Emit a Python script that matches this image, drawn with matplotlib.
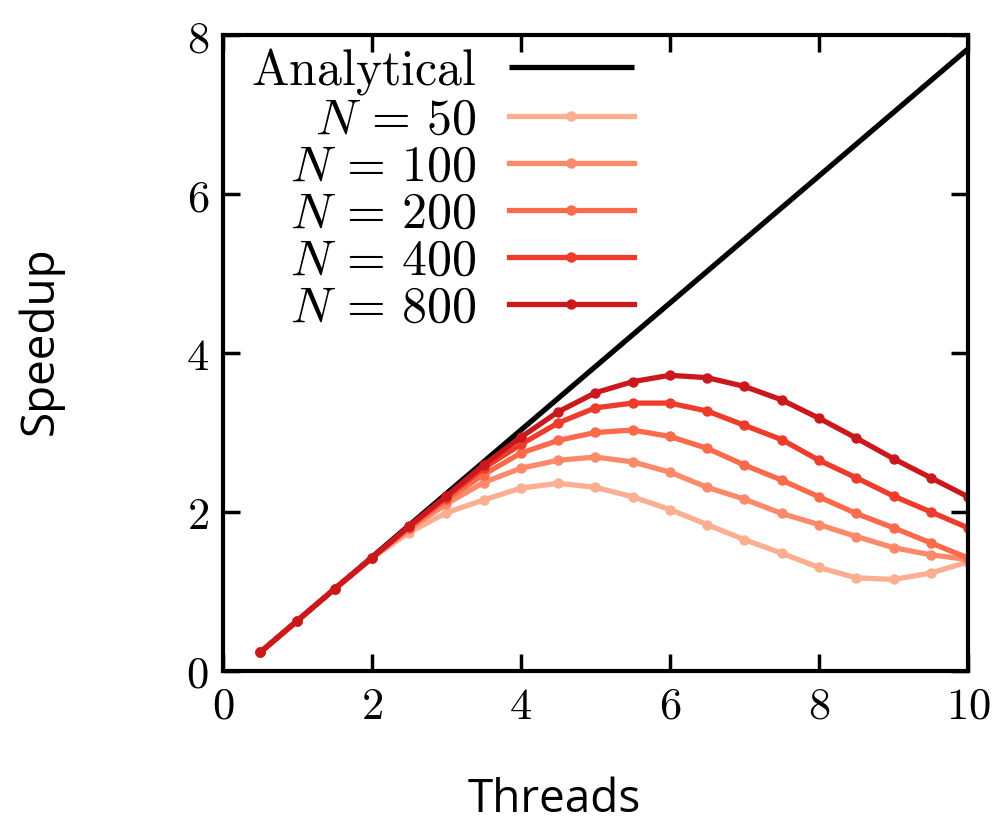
import matplotlib
matplotlib.use('Agg')
import matplotlib.pyplot as plt

plt.rcParams['mathtext.fontset'] = 'cm'
plt.rcParams['font.family'] = ['DejaVu Serif']

# threads (x) and measured speedups for each problem size
threads = [0.5, 1.0, 1.5, 2.0, 2.5, 3.0, 3.5, 4.0, 4.5, 5.0,
           5.5, 6.0, 6.5, 7.0, 7.5, 8.0, 8.5, 9.0, 9.5, 10.0]
analytical_x = [0.5, 10.0]
analytical_y = [0.23, 7.83]

speedup_50 = [0.23, 0.63, 1.03, 1.42, 1.74, 1.99, 2.15, 2.30, 2.36, 2.31,
              2.19, 2.03, 1.84, 1.65, 1.48, 1.30, 1.17, 1.15, 1.23, 1.37]
speedup_100 = [0.23, 0.63, 1.03, 1.42, 1.78, 2.10, 2.37, 2.55, 2.65, 2.69,
               2.63, 2.50, 2.31, 2.16, 1.98, 1.84, 1.69, 1.55, 1.46, 1.40]
speedup_200 = [0.23, 0.63, 1.03, 1.42, 1.80, 2.15, 2.47, 2.74, 2.90, 3.00,
               3.03, 2.95, 2.80, 2.59, 2.40, 2.19, 1.98, 1.80, 1.61, 1.42]
speedup_400 = [0.23, 0.63, 1.03, 1.42, 1.81, 2.18, 2.55, 2.85, 3.12, 3.31,
               3.37, 3.37, 3.27, 3.09, 2.91, 2.65, 2.43, 2.20, 2.00, 1.80]
speedup_800 = [0.23, 0.63, 1.03, 1.42, 1.82, 2.20, 2.59, 2.94, 3.26, 3.50,
               3.64, 3.72, 3.69, 3.58, 3.41, 3.18, 2.93, 2.67, 2.43, 2.19]

sizes = [50, 100, 200, 400, 800]
colors = ['#fcae91', '#fc8a6a', '#fb6a4a', '#ef3b2c', '#cb181d']
xticks = [0, 2, 4, 6, 8, 10]
yticks = [0, 2, 4, 6, 8]

fig = plt.figure(figsize=(9.99, 8.22), dpi=100)
ax = fig.add_axes([0.223, 0.184, 0.746, 0.773])

ax.plot(analytical_x, analytical_y, color='black', lw=3.8,
        label=r'$\mathrm{Analytical}$', solid_capstyle='butt')
for n, ys, c in zip(sizes, [speedup_50, speedup_100, speedup_200, speedup_400, speedup_800], colors):
    ax.plot(threads, ys, color=c, lw=3.8, marker='o', ms=6.5,
            label=r'$N\,=\,%d$' % n)

ax.set_xlim(0, 10)
ax.set_ylim(0, 8)
ax.set_xticks(xticks, labels=[r'$%d$' % v for v in xticks])
ax.set_yticks(yticks, labels=[r'$%d$' % v for v in yticks])
ax.tick_params(direction='in', length=12, width=2.5, labelsize=32,
               top=True, right=True, pad=10)
for s in ax.spines.values():
    s.set_linewidth(3)

# labels right-aligned, line sample to the right, as in gnuplot
leg = ax.legend(loc='upper left', bbox_to_anchor=(0.011, 1.014),
                markerfirst=False, frameon=False,
                fontsize=36, handlelength=2.5, labelspacing=-0.05,
                borderaxespad=0.2, handletextpad=0.64, borderpad=0.2)

fig.text(0.04, 0.586, 'Speedup', rotation=90, ha='center', va='center',
         fontsize=33, family='Open Sans')
fig.text(0.555, 0.027, 'Threads', ha='center', va='center',
         fontsize=33, family='Open Sans')

fig.savefig('out.png', dpi=100)
